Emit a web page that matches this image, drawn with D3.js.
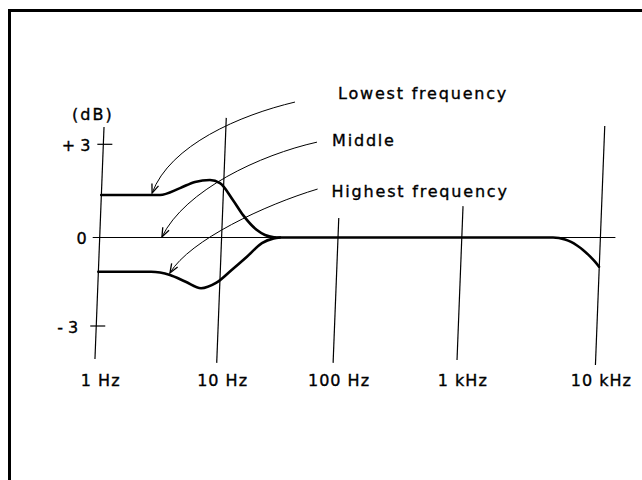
<!DOCTYPE html>
<html>
<head>
<meta charset="utf-8">
<script src="https://cdn.jsdelivr.net/npm/d3@7"></script>
<style>
  body { margin: 0; background: #fff; }
  svg text { font-family: "DejaVu Sans", sans-serif; font-size: 16px; fill: #000; stroke: #000; stroke-width: 0.35px; }
</style>
</head>
<body>
<div id="chart"></div>
<script>
// decades on the frequency axis
const decades = [1, 10, 100, 1000, 10000];
const decadeLabels = ["1 Hz", "10 Hz", "100 Hz", "1 kHz", "10 kHz"];
// how far each hand drawn vertical line runs (dB)
const gridTopDb = [3.56, 3.85, 0.63, 1.01, 3.59];
const gridBottomDb = [-4.12, -4.25, -4.25, -4.15, -4.32];

const dbTicks = [3, 0, -3];
const dbTickLabels = ["+ 3", "0", "- 3"];

// response curves (Hz, dB)
const upperFreq = [1.03, 3.12, 4.56, 6.05, 8.03, 9.7, 12.5, 15.3, 20.1, 23.6, 28.8];
const upperDb = [1.37, 1.37, 1.59, 1.79, 1.85, 1.75, 1.21, 0.72, 0.24, 0.08, 0];
const lowerFreq = [0.975, 2.64, 3.77, 5.07, 6.78, 9.0, 12.2, 16.5, 22.2, 28.0, 31.8];
const lowerDb = [-1.16, -1.16, -1.27, -1.5, -1.72, -1.54, -1.1, -0.65, -0.19, -0.03, 0];
const commonFreq = [27, 1000, 4550, 5556, 6138, 6781, 7490, 8414, 9140, 9770];
const commonDb = [0, 0, 0, -0.068, -0.15, -0.27, -0.42, -0.64, -0.82, -0.99];

// annotations: label anchors and arrows (start, control 1, control 2, tip) in Hz / dB
const noteLabels = ["Lowest frequency", "Middle", "Highest frequency"];
const noteFreq = [100, 89, 88];
const noteDb = [4.46, 2.94, 1.3];
const arrowFreq = [
  [42.7, 14.4, 3.77, 2.69],
  [66.0, 21.4, 5.01, 3.24],
  [66.8, 23.6, 5.51, 3.77]
];
const arrowDb = [
  [4.36, 3.94, 2.98, 1.43],
  [3.07, 2.66, 1.53, 0.02],
  [1.56, 1.05, -0.08, -1.2]
];

const W = 642, H = 480;
const svg = d3.select("#chart").append("svg").attr("width", W).attr("height", H);

// piecewise log scale: the drawn decades are not evenly spaced
const x = d3.scaleLog().domain(decades).range([99.7, 221.6, 338, 461.8, 600.4]);
const y = d3.scaleLinear().domain([-3, 0, 3]).range([326, 237.5, 144.3]);
const lean = 0.039; // vertical lines lean right going up
const xAt = (f, py) => x(f) - lean * (py - y(0));

// frame (left + top only)
svg.append("line").attr("x1", 9.5).attr("y1", 9).attr("x2", 9.5).attr("y2", H)
  .attr("stroke", "#000").attr("stroke-width", 3);
svg.append("line").attr("x1", 8).attr("y1", 10.5).attr("x2", W).attr("y2", 10.5)
  .attr("stroke", "#000").attr("stroke-width", 3);

// vertical decade lines (the first one is the dB axis)
decades.forEach((f, i) => {
  const y1 = y(gridTopDb[i]), y2 = y(gridBottomDb[i]);
  svg.append("line")
    .attr("x1", xAt(f, y1)).attr("y1", y1)
    .attr("x2", xAt(f, y2)).attr("y2", y2)
    .attr("stroke", "#000").attr("stroke-width", 1.2);
  svg.append("text")
    .attr("x", x(f) + 1).attr("y", 386)
    .attr("text-anchor", "middle")
    .attr("letter-spacing", "1px")
    .text(decadeLabels[i]);
});

// zero line
svg.append("line")
  .attr("x1", x(1) - 7).attr("y1", y(0))
  .attr("x2", x(10000) + 15).attr("y2", y(0))
  .attr("stroke", "#000").attr("stroke-width", 1.2);

// dB ticks and labels
dbTicks.forEach((d, i) => {
  const py = y(d);
  const ax = xAt(1, py);
  if (d !== 0) {
    svg.append("line").attr("x1", ax - 6).attr("y1", py).attr("x2", ax + 9).attr("y2", py)
      .attr("stroke", "#000").attr("stroke-width", 1.2);
  }
  svg.append("text")
    .attr("x", ax - (d < 0 ? 18 : 13)).attr("y", py + 6.5)
    .attr("text-anchor", "end")
    .text(dbTickLabels[i]);
});
svg.append("text").attr("x", xAt(1, y(3.56)) - 32).attr("y", 120)
  .attr("letter-spacing", "2px").text("(dB)");

// response curves
const line = d3.line().x(d => x(d[0])).y(d => y(d[1])).curve(d3.curveMonotoneX);
[[upperFreq, upperDb], [lowerFreq, lowerDb], [commonFreq, commonDb]].forEach(([fs, ds]) => {
  svg.append("path")
    .datum(fs.map((f, i) => [f, ds[i]]))
    .attr("d", line)
    .attr("fill", "none").attr("stroke", "#000").attr("stroke-width", 2.6)
    .attr("stroke-linejoin", "round").attr("stroke-linecap", "round");
});

// arrow marker
svg.append("defs").append("marker")
  .attr("id", "arrow")
  .attr("viewBox", "-11 -6 12 12")
  .attr("refX", 0).attr("refY", 0)
  .attr("markerWidth", 12).attr("markerHeight", 12)
  .attr("markerUnits", "userSpaceOnUse")
  .attr("orient", "auto")
  .append("path")
  .attr("d", "M-9,-3.5L0,0L-9,3.5")
  .attr("fill", "none").attr("stroke", "#000").attr("stroke-width", 1.3);

arrowFreq.forEach((fs, k) => {
  const p = fs.map((f, i) => [x(f), y(arrowDb[k][i])]);
  const path = d3.path();
  path.moveTo(p[0][0], p[0][1]);
  path.bezierCurveTo(p[1][0], p[1][1], p[2][0], p[2][1], p[3][0], p[3][1]);
  svg.append("path")
    .attr("d", path.toString())
    .attr("fill", "none").attr("stroke", "#000").attr("stroke-width", 1)
    .attr("marker-end", "url(#arrow)");
});

noteLabels.forEach((t, i) => {
  svg.append("text")
    .attr("x", x(noteFreq[i])).attr("y", y(noteDb[i]))
    .attr("letter-spacing", "1.8px")
    .text(t);
});
</script>
</body>
</html>
